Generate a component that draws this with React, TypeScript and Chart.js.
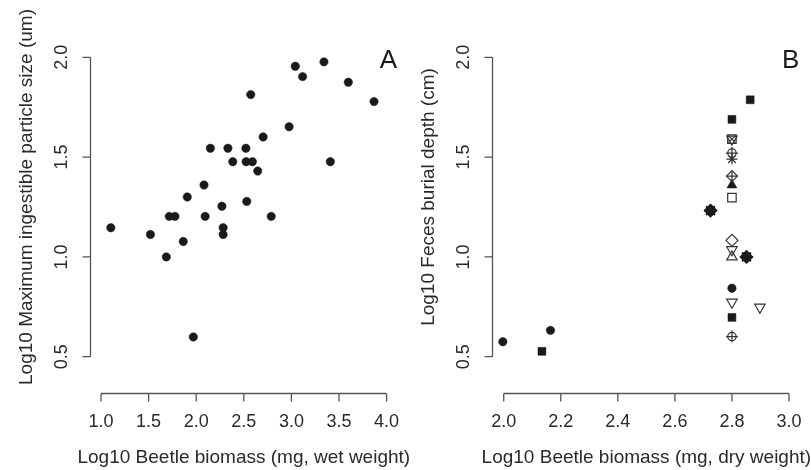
import React, { useEffect, useRef } from "react";
import { Chart, registerables } from "chart.js";

Chart.register(...registerables);

// ---------- Panel A data ----------
const aBiomass = [1.103, 1.519, 1.686, 1.717, 1.777, 1.864, 1.906, 1.97, 2.082, 2.094, 2.149, 2.27, 2.283, 2.283, 2.333, 2.384, 2.522, 2.524, 2.59, 2.531, 2.573, 2.646, 2.703, 2.788, 2.976, 3.041, 3.118, 3.342, 3.409, 3.598, 3.868];
const aParticle = [1.146, 1.112, 1.0, 1.203, 1.203, 1.077, 1.30, 0.599, 1.36, 1.203, 1.544, 1.254, 1.146, 1.112, 1.544, 1.477, 1.544, 1.477, 1.477, 1.278, 1.813, 1.43, 1.601, 1.203, 1.652, 1.955, 1.903, 1.977, 1.477, 1.875, 1.778];

// ---------- Panel B data (one pair of arrays per symbol) ----------
const bFilledCircleX = [1.997, 2.164, 2.8];
const bFilledCircleY = [0.575, 0.632, 0.843];
const bFilledSquareX = [2.134, 2.8, 2.8, 2.864];
const bFilledSquareY = [0.527, 1.689, 0.697, 1.787];
const bSquareCrossX = [2.8];
const bSquareCrossY = [1.59];
const bCirclePlusX = [2.8, 2.8];
const bCirclePlusY = [1.52, 0.601];
const bAsteriskX = [2.8];
const bAsteriskY = [1.49];
const bDiamondPlusX = [2.8];
const bDiamondPlusY = [1.405];
const bFilledTriangleX = [2.8];
const bFilledTriangleY = [1.36];
const bOpenSquareX = [2.8];
const bOpenSquareY = [1.297];
const bOpenDiamondX = [2.8];
const bOpenDiamondY = [1.083];
const bTriangleDownX = [2.8, 2.8, 2.898];
const bTriangleDownY = [1.036, 0.773, 0.748];
const bTriangleUpX = [2.8];
const bTriangleUpY = [1.0];
const bOverplotX = [2.725, 2.851];
const bOverplotY = [1.232, 1.0];

// ---------- Axes ----------
const aXTicks = [1.0, 1.5, 2.0, 2.5, 3.0, 3.5, 4.0];
const bXTicks = [2.0, 2.2, 2.4, 2.6, 2.8, 3.0];
const yTicks = [0.5, 1.0, 1.5, 2.0];
const aXTitle = "Log10 Beetle biomass (mg, wet weight)";
const aYTitle = "Log10 Maximum ingestible particle size (um)";
const bXTitle = "Log10 Beetle biomass (mg, dry weight)";
const bYTitle = "Log10 Feces burial depth (cm)";
const aLabel = "A";
const bLabel = "B";

const FONT = '"Liberation Sans", Arial, Helvetica, sans-serif';
const INK = "#1a1a1a";
const TEXT = "#2a2a2a";
const AXIS = "#555555";
const W = 811;
const H = 470;

const pts = (xs: number[], ys: number[]) => xs.map((x, i) => ({ x, y: ys[i] }));

const rAxesPlugin = {
  id: "rAxes",
  afterDraw(chart: any, _args: any, opts: any) {
    const { ctx, chartArea } = chart;
    const xs = chart.scales.x;
    const ys = chart.scales.y;
    const tickLen = 8;
    ctx.save();
    ctx.strokeStyle = AXIS;
    ctx.lineWidth = 1.3;

    // x axis (detached below plot region, like R)
    const ax = Math.round(chartArea.bottom + 24) + 0.5;
    const xp = opts.xTicks.map((v: number) => xs.getPixelForValue(v));
    ctx.beginPath();
    ctx.moveTo(xp[0], ax);
    ctx.lineTo(xp[xp.length - 1], ax);
    xp.forEach((p: number) => {
      ctx.moveTo(p, ax);
      ctx.lineTo(p, ax + tickLen);
    });
    ctx.stroke();

    // y axis
    const ay = Math.round(chartArea.left) + 0.5;
    const yp = opts.yTicks.map((v: number) => ys.getPixelForValue(v));
    ctx.beginPath();
    ctx.moveTo(ay, yp[0]);
    ctx.lineTo(ay, yp[yp.length - 1]);
    yp.forEach((p: number) => {
      ctx.moveTo(ay, p);
      ctx.lineTo(ay - tickLen, p);
    });
    ctx.stroke();

    // tick labels
    ctx.fillStyle = TEXT;
    ctx.font = `18px ${FONT}`;
    ctx.textAlign = "center";
    ctx.textBaseline = "middle";
    opts.xTicks.forEach((v: number, i: number) => {
      ctx.fillText(v.toFixed(1), xp[i], ax + 29);
    });
    opts.yTicks.forEach((v: number, i: number) => {
      ctx.save();
      ctx.translate(ay - 28, yp[i]);
      ctx.rotate(-Math.PI / 2);
      ctx.fillText(v.toFixed(1), 0, 0);
      ctx.restore();
    });

    // axis titles
    ctx.font = `19px ${FONT}`;
    ctx.fillText(opts.xTitle, (chartArea.left + chartArea.right) / 2, ax + 64);
    ctx.save();
    ctx.translate(ay - 64, (yp[0] + yp[yp.length - 1]) / 2 - 10);
    ctx.rotate(-Math.PI / 2);
    ctx.fillText(opts.yTitle, 0, 0);
    ctx.restore();

    // panel letter
    ctx.fillStyle = INK;
    ctx.font = `26px ${FONT}`;
    ctx.textAlign = "right";
    ctx.textBaseline = "alphabetic";
    ctx.fillText(opts.label, chartArea.right - 1, chartArea.top + 23);
    ctx.restore();
  },
};

const baseDs = {
  showLine: false,
  clip: false as any,
  pointBorderWidth: 1.2,
  pointHoverRadius: 0,
};

function makeConfig(
  datasets: any[],
  xMin: number,
  xMax: number,
  padding: any,
  axesOpts: any
): any {
  return {
    type: "scatter",
    data: { datasets },
    options: {
      responsive: false,
      animation: false,
      events: [],
      layout: { padding },
      scales: {
        x: { type: "linear", min: xMin, max: xMax, display: false },
        y: { type: "linear", min: 0.44, max: 2.06, display: false },
      },
      plugins: {
        legend: { display: false },
        tooltip: { enabled: false },
        rAxes: axesOpts,
      },
    },
    plugins: [rAxesPlugin],
  };
}

function panelADatasets() {
  return [
    {
      ...baseDs,
      data: pts(aBiomass, aParticle),
      pointStyle: "circle",
      pointRadius: 4.2,
      backgroundColor: INK,
      borderColor: INK,
      pointBorderWidth: 0.5,
    },
  ];
}

function panelBDatasets() {
  const open = (xs: number[], ys: number[], style: string, r: number, extra: any = {}) => ({
    ...baseDs,
    data: pts(xs, ys),
    pointStyle: style,
    pointRadius: r,
    backgroundColor: "rgba(0,0,0,0)",
    borderColor: "#333",
    ...extra,
  });
  const filled = (xs: number[], ys: number[], style: string, r: number, extra: any = {}) => ({
    ...baseDs,
    data: pts(xs, ys),
    pointStyle: style,
    pointRadius: r,
    backgroundColor: INK,
    borderColor: INK,
    pointBorderWidth: 0.5,
    ...extra,
  });
  return [
    filled(bFilledCircleX, bFilledCircleY, "circle", 4.2),
    filled(bFilledSquareX, bFilledSquareY, "rect", 5.6),
    open(bSquareCrossX, bSquareCrossY, "rect", 6),
    open(bSquareCrossX, bSquareCrossY, "crossRot", 5),
    open(bSquareCrossX, bSquareCrossY, "triangle", 6, { pointRotation: 180 }),
    open(bCirclePlusX, bCirclePlusY, "circle", 4.2),
    open(bCirclePlusX, bCirclePlusY, "cross", 6),
    open(bAsteriskX, bAsteriskY, "star", 5.5),
    open(bDiamondPlusX, bDiamondPlusY, "rectRot", 5.5),
    open(bDiamondPlusX, bDiamondPlusY, "cross", 5.5),
    filled(bFilledTriangleX, bFilledTriangleY, "triangle", 5.8),
    open(bOpenSquareX, bOpenSquareY, "rect", 6),
    open(bOpenDiamondX, bOpenDiamondY, "rectRot", 6),
    open(bTriangleDownX, bTriangleDownY, "triangle", 6, { pointRotation: 180 }),
    open(bTriangleUpX, bTriangleUpY, "triangle", 6),
    filled(bOverplotX, bOverplotY, "circle", 4.8),
    open(bOverplotX, bOverplotY, "star", 6.2, { borderColor: INK, pointBorderWidth: 2 }),
    open(bOverplotX, bOverplotY, "rectRot", 6, { borderColor: INK, pointBorderWidth: 1.5 }),
  ];
}

export default function App() {
  const refA = useRef<HTMLCanvasElement | null>(null);
  const refB = useRef<HTMLCanvasElement | null>(null);

  useEffect(() => {
    if (!refA.current || !refB.current) return;
    const chartA = new Chart(
      refA.current,
      makeConfig(
        panelADatasets(),
        0.88,
        4.12,
        { left: 89.6, right: W - 398, top: 45.3, bottom: 101.3 },
        { xTicks: aXTicks, yTicks, xTitle: aXTitle, yTitle: aYTitle, label: aLabel }
      )
    );
    const chartB = new Chart(
      refB.current,
      makeConfig(
        panelBDatasets(),
        1.96,
        3.04,
        { left: 492.3, right: W - 800.4, top: 45.3, bottom: 101.3 },
        { xTicks: bXTicks, yTicks, xTitle: bXTitle, yTitle: bYTitle, label: bLabel }
      )
    );
    return () => {
      chartA.destroy();
      chartB.destroy();
    };
  }, []);

  const canvasStyle: React.CSSProperties = {
    position: "absolute",
    left: 0,
    top: 0,
    display: "block",
  };

  return (
    <div
      style={{
        position: "fixed",
        left: 0,
        top: 0,
        width: W,
        height: H,
        background: "#fff",
      }}
    >
      <canvas ref={refA} width={W} height={H} style={canvasStyle} />
      <canvas ref={refB} width={W} height={H} style={canvasStyle} />
    </div>
  );
}
